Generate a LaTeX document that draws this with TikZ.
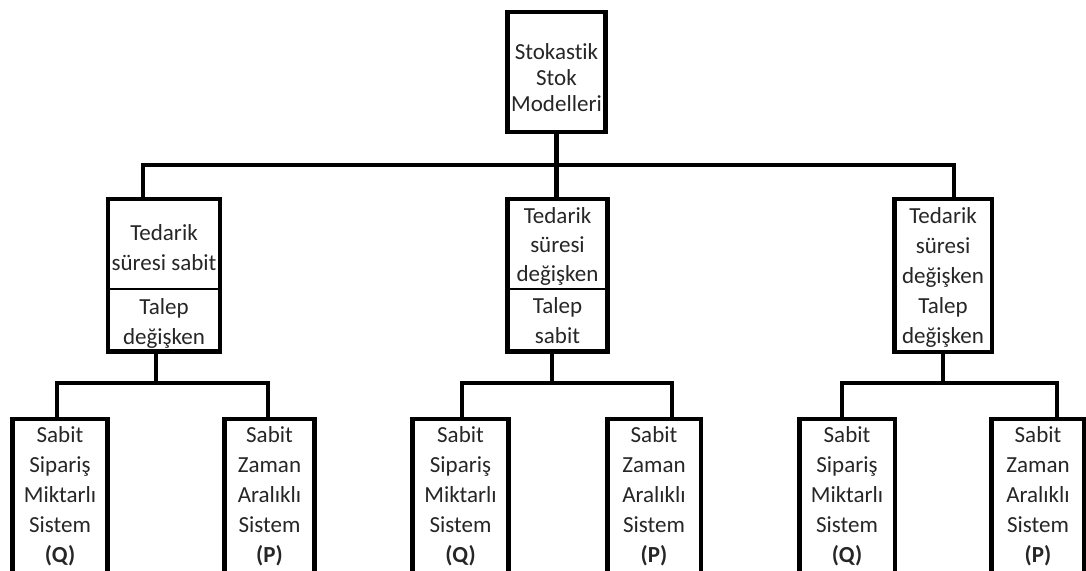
\documentclass[tikz,border=0pt]{standalone}
\usepackage{fontspec}
\setmainfont[Ligatures={NoCommon}]{Carlito}
\definecolor{txtcol}{RGB}{38,38,38}
\begin{document}
\begin{tikzpicture}[x=1pt,y=-1pt,
  box/.style={draw=black, line width=4.5pt, fill=white, inner sep=0pt},
  conn/.style={draw=black, line width=4.5pt},
  divline/.style={draw=black, line width=1.2pt},
  txt/.style={font=\fontsize{23}{30}\selectfont, align=center, anchor=north, inner sep=0pt, text=txtcol}]
\fill[white] (0,0) rectangle (1086,570);
\useasboundingbox (0,0) rectangle (1086,570);
\clip (0,0) rectangle (1086,570);

% top
\node[box, minimum width=98pt, minimum height=120pt] (top) at (556.5,72) {};
\node[txt, font=\fontsize{23}{26}\selectfont] (ttop) at (556.5,43.5) {Stokastik\\Stok\\Modelleri};

% level 2
\node[box, minimum width=112pt, minimum height=152.5pt] (l2a) at (164,275) {};
\node[box, minimum width=100pt, minimum height=152.5pt] (l2b) at (557.5,275) {};
\node[box, minimum width=97.5pt, minimum height=153pt] (l2c) at (943,275.5) {};
\coordinate (dv) at (0,289);
\draw[divline] (l2a.west |- dv) -- (l2a.east |- dv);
\draw[divline] (l2b.west |- dv) -- (l2b.east |- dv);

\node[txt] (ta1) at (164,224) {Tedarik\\süresi sabit};
\node[txt] (ta2) at (164,298) {Talep\\değişken};
\node[txt, font=\fontsize{23}{29}\selectfont] (tb1) at (557.5,207) {Tedarik\\süresi\\değişken};
\node[txt] (tb2) at (557.5,297) {Talep\\sabit};
\node[txt] (tc) at (943,207) {Tedarik\\süresi\\değişken\\Talep\\değişken};

% level 3 boxes
\foreach \n/\xa/\xb in {la/12.5/107.5, lb/224.5/314.5, ma/412.5/508.5, mb/607.5/701, ra/799.5/895, rb/991.5/1084}{
  \node[box, minimum width={\xb-\xa}, minimum height=200pt] (\n) at ({(\xa+\xb)/2},519) {};
}
\foreach \n/\xc in {la/60, ma/460.5, ra/847}{
  \node[txt] (t\n) at (\xc,426.5) {Sabit\\Sipariş\\Miktarlı\\Sistem\\\textbf{(Q)}};
}
\foreach \n/\xc in {lb/269.5, mb/654, rb/1038}{
  \node[txt] (t\n) at (\xc,426.5) {Sabit\\Zaman\\Aralıklı\\Sistem\\\textbf{(P)}};
}

% connectors level 1 -> 2
\coordinate (jA) at (143,165);
\coordinate (jC) at (954,165);
\draw[conn] (top.south) -- (top.south |- l2b.north);
\draw[conn] (jA |- l2a.north) -- (jA) -- (jC) -- (jC |- l2c.north);

% connectors level 2 -> 3
\coordinate (sa) at (156,383);
\coordinate (sb) at (552,383);
\coordinate (sc) at (943,383);
\coordinate (ka1) at (57,383);  \coordinate (ka2) at (268,383);
\coordinate (kb1) at (462,383); \coordinate (kb2) at (672,383);
\coordinate (kc1) at (842,383); \coordinate (kc2) at (1057,383);
\draw[conn] (sa |- l2a.south) -- (sa);
\draw[conn] (ka1 |- la.north) -- (ka1) -- (ka2) -- (ka2 |- lb.north);
\draw[conn] (sb |- l2b.south) -- (sb);
\draw[conn] (kb1 |- ma.north) -- (kb1) -- (kb2) -- (kb2 |- mb.north);
\draw[conn] (sc |- l2c.south) -- (sc);
\draw[conn] (kc1 |- ra.north) -- (kc1) -- (kc2) -- (kc2 |- rb.north);
\end{tikzpicture}
\end{document}
